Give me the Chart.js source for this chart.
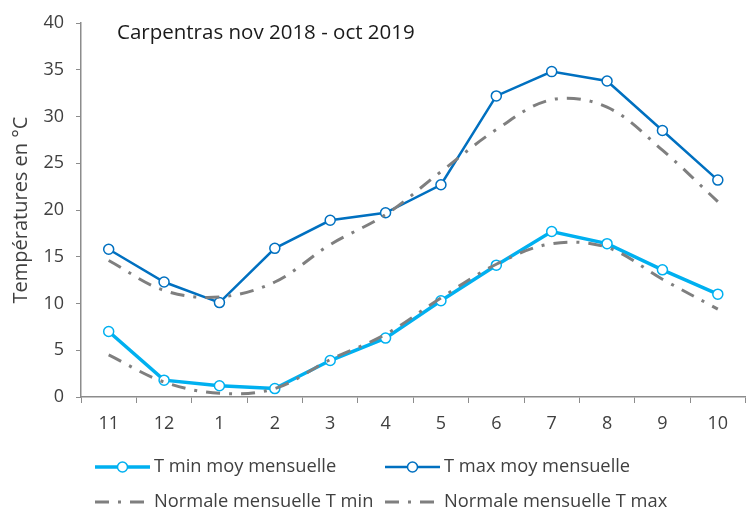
<!DOCTYPE html>
<html>
<head>
<meta charset="utf-8">
<script src="https://cdn.jsdelivr.net/npm/chart.js@4"></script>
<style>
  html, body { margin: 0; padding: 0; background: #fff; }
  #wrap { width: 752px; height: 513px; }
</style>
</head>
<body>
<div id="wrap"><canvas id="temp-chart" width="752" height="513"></canvas></div>
<script>
// Data
const months = ['11', '12', '1', '2', '3', '4', '5', '6', '7', '8', '9', '10'];
const tMinMoy = [7.0, 1.8, 1.2, 0.9, 3.9, 6.3, 10.3, 14.1, 17.7, 16.4, 13.6, 11.0];
const tMaxMoy = [15.8, 12.3, 10.1, 15.9, 18.9, 19.7, 22.7, 32.2, 34.8, 33.8, 28.5, 23.2];
const normaleMin = [4.5, 1.6, 0.4, 0.9, 4.0, 6.7, 10.6, 14.2, 16.4, 16.0, 12.6, 9.4];
const normaleMax = [14.6, 11.4, 10.7, 12.3, 16.3, 19.5, 24.1, 28.6, 31.8, 31.0, 26.4, 20.9];
const yTicks = [0, 5, 10, 15, 20, 25, 30, 35, 40];

const chartTitle = 'Carpentras nov 2018 - oct 2019';
const FONT = '"Open Sans"';
const TEXT_COLOR = '#404040';
const AXIS_COLOR = '#8c8c8c';
const DASH_DOT = [14, 9, 3, 9];

// Title drawn inside the plot area, top left
const innerTitle = {
  id: 'innerTitle',
  afterDraw(chart) {
    const { ctx, chartArea } = chart;
    ctx.save();
    ctx.font = `20.5px ${FONT}`;
    ctx.fillStyle = '#1a1a1a';
    ctx.textBaseline = 'middle';
    ctx.fillText(chartTitle, chartArea.left + 36, 33);
    ctx.restore();
  }
};

// Two-column legend under the axis
const gridLegend = {
  id: 'gridLegend',
  afterDraw(chart) {
    const { ctx } = chart;
    const slots = [
      { x: 95, y: 467 }, { x: 385, y: 467 },
      { x: 95, y: 502 }, { x: 385, y: 502 }
    ];
    chart.data.datasets.forEach((ds, i) => {
      const s = slots[i];
      const w = 55;
      ctx.save();
      ctx.strokeStyle = ds.borderColor;
      ctx.lineWidth = ds.borderWidth;
      ctx.setLineDash(ds.borderDash || []);
      ctx.beginPath();
      ctx.moveTo(s.x, s.y);
      ctx.lineTo(s.x + w, s.y);
      ctx.stroke();
      ctx.setLineDash([]);
      if (ds.pointRadius > 0) {
        ctx.beginPath();
        ctx.arc(s.x + w / 2, s.y, ds.pointRadius, 0, Math.PI * 2);
        ctx.fillStyle = ds.pointBackgroundColor;
        ctx.fill();
        ctx.lineWidth = ds.pointBorderWidth;
        ctx.strokeStyle = ds.pointBorderColor;
        ctx.stroke();
      }
      ctx.font = `18.3px ${FONT}`;
      ctx.fillStyle = TEXT_COLOR;
      ctx.textBaseline = 'middle';
      ctx.fillText(ds.label, s.x + w + 4, s.y);
      ctx.restore();
    });
  }
};

const ctx = document.getElementById('temp-chart').getContext('2d');
new Chart(ctx, {
  type: 'line',
  data: {
    labels: months,
    datasets: [
      {
        label: 'T min moy mensuelle',
        data: tMinMoy,
        borderColor: '#00b0f0',
        borderWidth: 3.5,
        pointRadius: 5,
        pointBackgroundColor: '#ffffff',
        pointBorderColor: '#00b0f0',
        pointBorderWidth: 1.5,
        tension: 0,
        order: 3
      },
      {
        label: 'T max moy mensuelle',
        data: tMaxMoy,
        borderColor: '#0070c0',
        borderWidth: 2.5,
        pointRadius: 5,
        pointBackgroundColor: '#ffffff',
        pointBorderColor: '#0070c0',
        pointBorderWidth: 1.5,
        tension: 0,
        order: 2
      },
      {
        label: 'Normale mensuelle T min',
        data: normaleMin,
        borderColor: '#7f7f7f',
        borderWidth: 3,
        borderDash: DASH_DOT,
        pointRadius: 0,
        tension: 0.35,
        order: 1
      },
      {
        label: 'Normale mensuelle T max',
        data: normaleMax,
        borderColor: '#7f7f7f',
        borderWidth: 3,
        borderDash: DASH_DOT,
        pointRadius: 0,
        tension: 0.35,
        order: 0
      }
    ]
  },
  options: {
    responsive: false,
    animation: false,
    devicePixelRatio: 1,
    layout: { padding: { top: 23, right: 0, bottom: 0, left: 0 } },
    plugins: {
      legend: { display: false },
      title: { display: false },
      tooltip: { enabled: false }
    },
    scales: {
      x: {
        offset: true,
        grid: {
          offset: true,
          drawOnChartArea: false,
          drawTicks: true,
          tickLength: 6,
          color: AXIS_COLOR
        },
        border: { color: AXIS_COLOR, width: 1.5 },
        ticks: { color: TEXT_COLOR, font: { family: FONT, size: 18 }, padding: 10, maxRotation: 0 },
        afterFit(scale) { scale.height = 116; }
      },
      y: {
        min: 0,
        max: 40,
        afterBuildTicks(scale) { scale.ticks = yTicks.map(v => ({ value: v })); },
        grid: {
          drawOnChartArea: false,
          drawTicks: true,
          tickLength: 5,
          color: AXIS_COLOR
        },
        border: { color: AXIS_COLOR, width: 1.5 },
        ticks: { color: TEXT_COLOR, font: { family: FONT, size: 18 }, padding: 12 },
        title: {
          display: true,
          text: 'Températures en °C',
          color: TEXT_COLOR,
          font: { family: FONT, size: 20 },
          padding: { top: 9, bottom: 0 }
        },
        afterFit(scale) { scale.width = 81; }
      }
    }
  },
  plugins: [innerTitle, gridLegend]
});
</script>
</body>
</html>
